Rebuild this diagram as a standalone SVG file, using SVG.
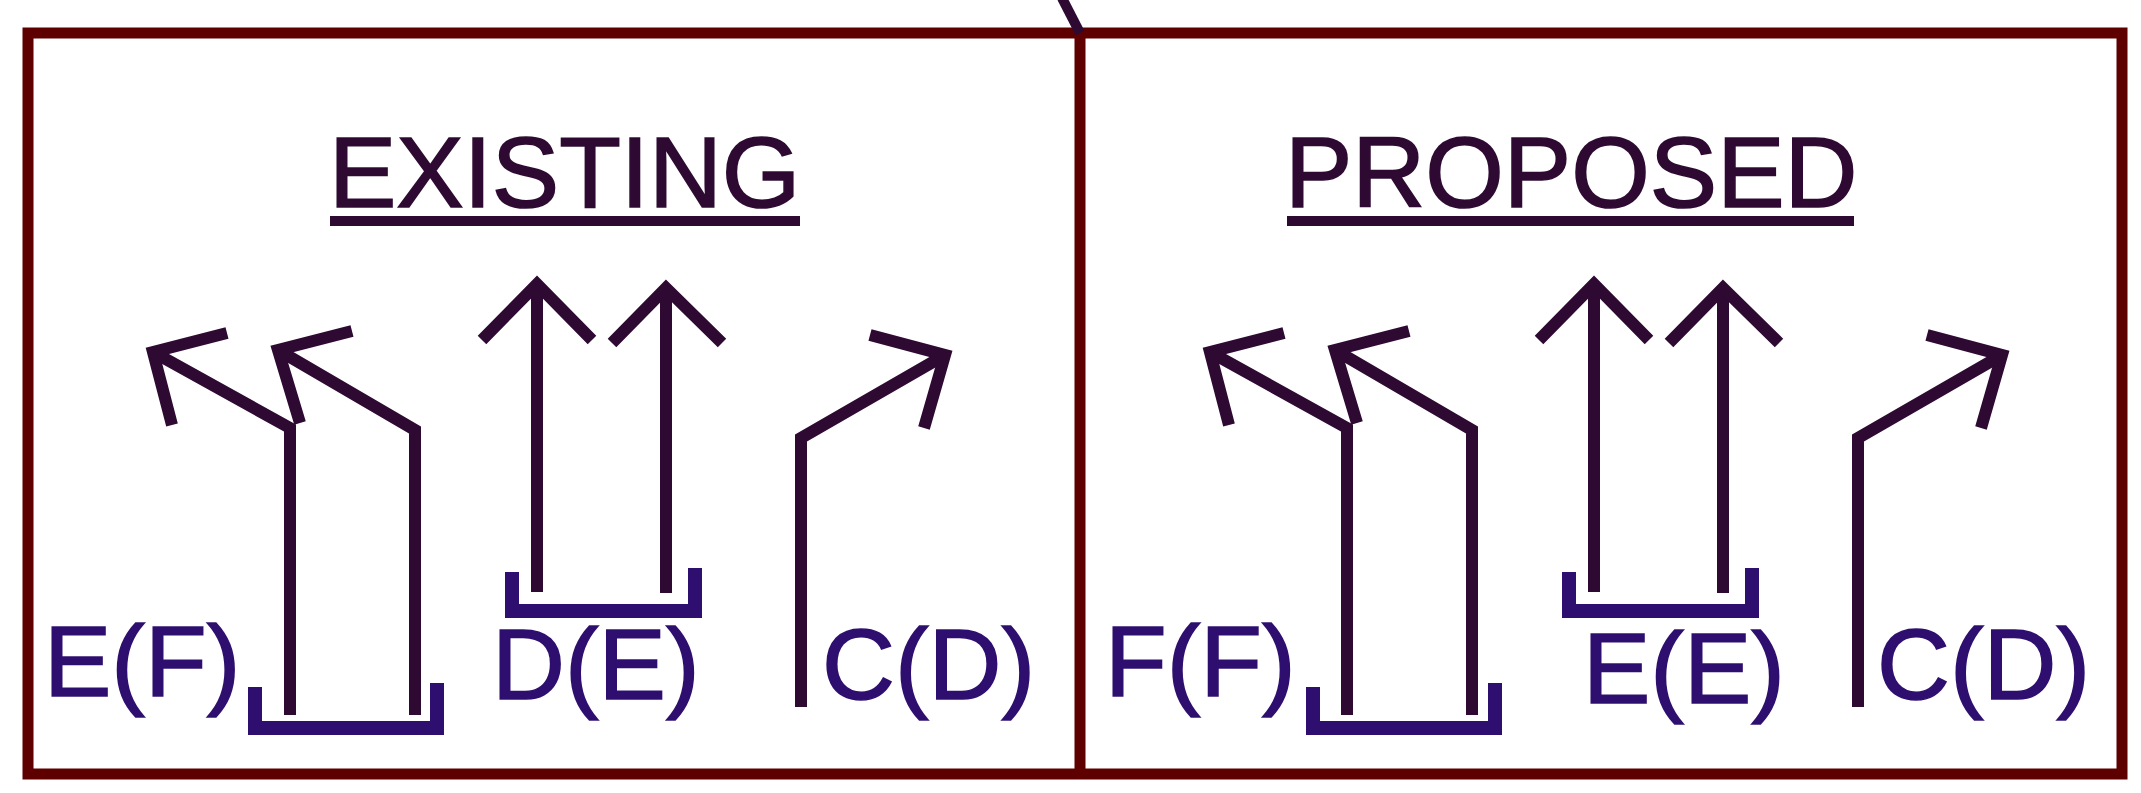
<svg xmlns="http://www.w3.org/2000/svg" width="2141" height="793" viewBox="0 0 2141 793">
  <style>
    .frame { fill: none; stroke: #5e0000; stroke-width: 11; }
    .lane { fill: none; stroke: #2e0a33; stroke-width: 12; stroke-linejoin: miter; stroke-linecap: butt; }
    .bracket { fill: none; stroke: #2e0e6e; stroke-width: 14; stroke-linejoin: miter; stroke-linecap: butt; }
    .title { font-family: "Liberation Sans", Arial, sans-serif; font-size: 101px; fill: #2e0a33; stroke: #2e0a33; stroke-width: 1.6; }
    .uline { stroke: #2e0a33; stroke-width: 10; }
    .label { font-family: "Liberation Sans", Arial, sans-serif; font-size: 101px; fill: #2e0e6e; stroke: #2e0e6e; stroke-width: 1.6; }
  </style>
  <rect width="2141" height="793" fill="#ffffff"/>

  <g id="frame">
    <rect class="frame" x="28" y="33" width="2094" height="741"/>
    <line class="frame" x1="1080" y1="33" x2="1080" y2="774"/>
    <line x1="1062" y1="-2" x2="1080" y2="33" stroke="#2e0a33" stroke-width="10"/>
  </g>

  <g id="existing">
    <g id="existing-title">
      <text class="title" x="329" y="207">EXISTING</text>
      <line class="uline" x1="330" y1="221" x2="800" y2="221"/>
    </g>
    <g id="existing-lanes" class="connectors">
      <g id="ex-left-turn-1">
        <polyline class="lane" points="290,715 290,428 153,352"/>
        <polyline class="lane" points="227,333 153,352 172,425"/>
      </g>
      <g id="ex-left-turn-2">
        <polyline class="lane" points="415,715 415,430 278,350"/>
        <polyline class="lane" points="352,331 278,350 300,423"/>
      </g>
      <g id="ex-through-1">
        <polyline class="lane" points="537,592 537,284"/>
        <polyline class="lane" points="482,340 537,284 592,340"/>
      </g>
      <g id="ex-through-2">
        <polyline class="lane" points="666,593 666,288"/>
        <polyline class="lane" points="612,343 666,288 722,343"/>
      </g>
      <g id="ex-right-turn">
        <polyline class="lane" points="801,707 801,438 945,355"/>
        <polyline class="lane" points="870,335 945,355 924,428"/>
      </g>
    </g>
    <g id="ex-group-ef">
      <path class="bracket" d="M255,687 V728 H437 V683"/>
      <text class="label" x="44" y="696">E(F)</text>
    </g>
    <g id="ex-group-de">
      <path class="bracket" d="M512,572 V611 H695 V568"/>
      <text class="label" x="492" y="699">D(E)</text>
    </g>
    <g id="ex-group-cd">
      <text class="label" x="822" y="699">C(D)</text>
    </g>
  </g>

  <g id="proposed">
    <g id="proposed-title">
      <text class="title" x="1285" y="207">PROPOSED</text>
      <line class="uline" x1="1287" y1="221" x2="1854" y2="221"/>
    </g>
    <g id="proposed-lanes" class="connectors" transform="translate(1057,0)">
      <g id="pr-left-turn-1">
        <polyline class="lane" points="290,715 290,428 153,352"/>
        <polyline class="lane" points="227,333 153,352 172,425"/>
      </g>
      <g id="pr-left-turn-2">
        <polyline class="lane" points="415,715 415,430 278,350"/>
        <polyline class="lane" points="352,331 278,350 300,423"/>
      </g>
      <g id="pr-through-1">
        <polyline class="lane" points="537,592 537,284"/>
        <polyline class="lane" points="482,340 537,284 592,340"/>
      </g>
      <g id="pr-through-2">
        <polyline class="lane" points="666,593 666,288"/>
        <polyline class="lane" points="612,343 666,288 722,343"/>
      </g>
      <g id="pr-right-turn">
        <polyline class="lane" points="801,707 801,438 945,355"/>
        <polyline class="lane" points="870,335 945,355 924,428"/>
      </g>
    </g>
    <g id="pr-group-ff">
      <path class="bracket" d="M1313,687 V728 H1495 V683"/>
      <text class="label" x="1105" y="696">F(F)</text>
    </g>
    <g id="pr-group-ee">
      <path class="bracket" d="M1569,572 V611 H1752 V568"/>
      <text class="label" x="1583" y="703">E(E)</text>
    </g>
    <g id="pr-group-cd">
      <text class="label" x="1877" y="699">C(D)</text>
    </g>
  </g>
</svg>
